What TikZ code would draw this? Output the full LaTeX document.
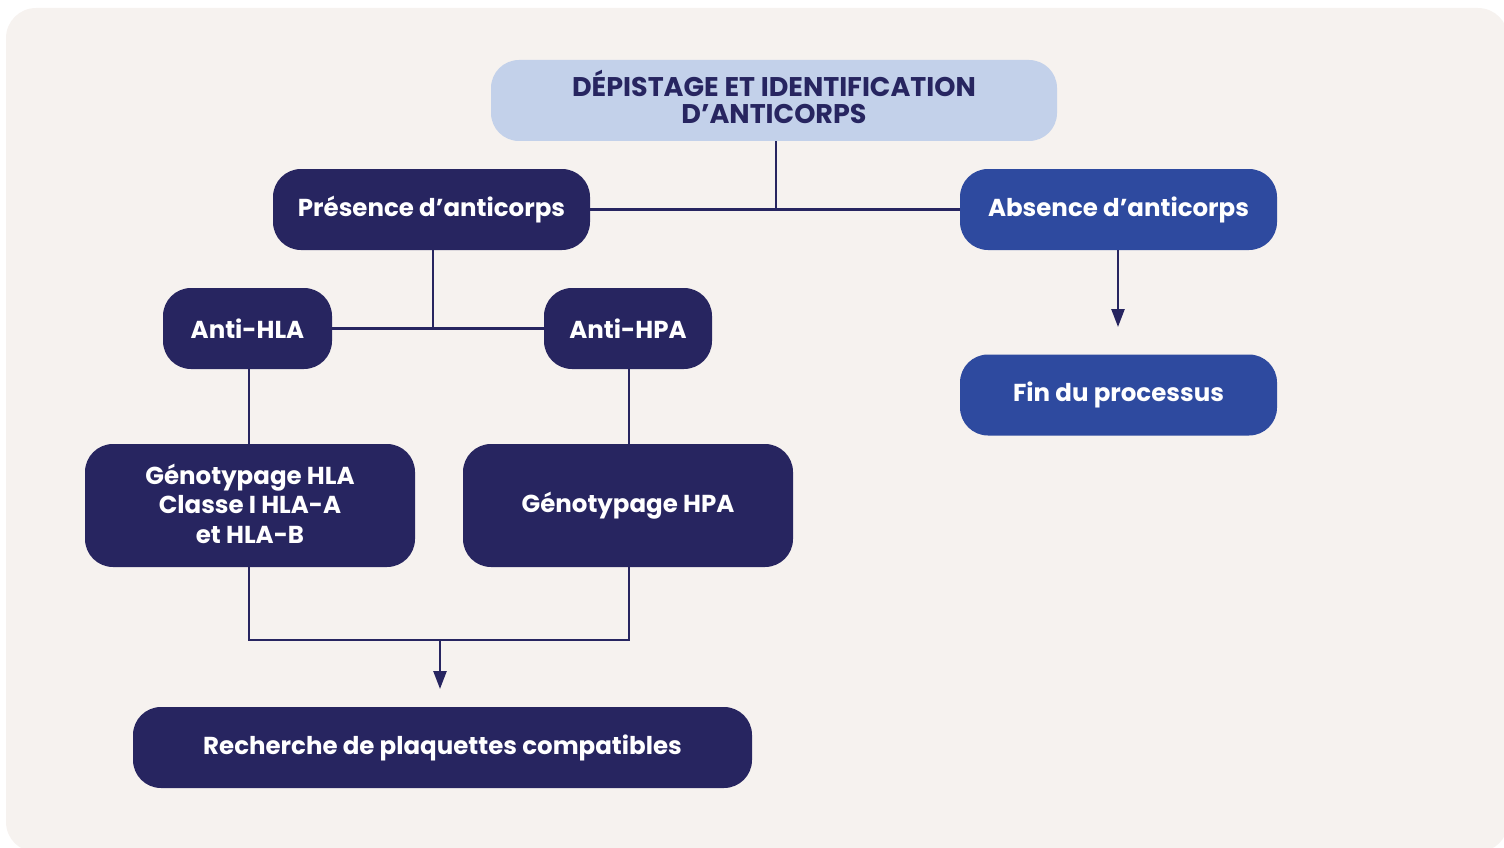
\documentclass[tikz,border=0pt]{standalone}
\usepackage{fontspec}
\setmainfont{Poppins}
\usetikzlibrary{arrows.meta}
\definecolor{navy}{HTML}{272560}
\definecolor{midblue}{HTML}{2E4A9F}
\definecolor{light}{HTML}{C3D1EA}
\definecolor{bg}{HTML}{F6F2EF}
\tikzset{
  box/.style={rounded corners=28pt, inner sep=0pt, align=center, text=white,
    font=\fontsize{24.5}{29.5}\selectfont\bfseries},
  darkbox/.style={box, fill=navy},
  bluebox/.style={box, fill=midblue},
  conn/.style={draw=navy, line width=2.5pt},
  arr/.style={conn, -{Triangle[length=18pt,width=13pt]}}
}
\begin{document}
\begin{tikzpicture}[x=1pt,y=-1pt]
\useasboundingbox (0,0) rectangle (1504,848);
\begin{scope}
\clip (0,0) rectangle (1504,848);
\fill[bg, rounded corners=30pt] (6,8) rectangle (1508,852);
\end{scope}
\node[box, fill=light, text=navy, minimum width=566pt, minimum height=81pt,
  font=\fontsize{27}{27}\selectfont\bfseries] (title) at (774,100.5) {DÉPISTAGE ET IDENTIFICATION\\D’ANTICORPS\rule[-7pt]{0pt}{0pt}};
\node[darkbox, minimum width=317pt, minimum height=81pt] (pres) at (431.5,209.5) {Présence d’anticorps};
\node[bluebox, minimum width=317pt, minimum height=81pt] (abs) at (1118.5,209.5) {Absence d’anticorps};
\node[darkbox, minimum width=169pt, minimum height=81pt] (hla) at (247.5,328.5) {Anti-HLA};
\node[darkbox, minimum width=168pt, minimum height=81pt] (hpa) at (628,328.5) {Anti-HPA};
\node[bluebox, minimum width=317pt, minimum height=81pt] (fin) at (1118.5,395) {Fin du processus};
\node[darkbox, minimum width=330pt, minimum height=123pt] (ghla) at (250,505.5) {Génotypage HLA\\Classe I HLA-A\\et HLA-B\rule[-4pt]{0pt}{0pt}};
\node[darkbox, minimum width=330pt, minimum height=123pt] (ghpa) at (628,505.5) {Génotypage HPA};
\node[darkbox, minimum width=619pt, minimum height=81pt] (rech) at (442.5,747.5) {Recherche de plaquettes compatibles};
\coordinate (j1) at (776,210);
\coordinate (j2) at (433,328);
\coordinate (j3) at (440,640);
\coordinate (a1) at (1118,327);
\coordinate (a2) at (440,689);
\draw[conn] (pres.east) -- (abs.west);
\draw[conn] (title.south -| j1) -- (j1);
\draw[conn] (hla.east) -- (hpa.west);
\draw[conn] (pres.south -| j2) -- (j2);
\draw[conn] (hla.south -| 249,0) -- (ghla.north -| 249,0);
\draw[conn] (hpa.south -| 629,0) -- (ghpa.north -| 629,0);
\draw[conn] (ghla.south -| 249,0) |- (j3) -| (ghpa.south -| 629,0);
\draw[arr] (j3) -- (a2);
\draw[arr] (abs.south -| a1) -- (a1);
\end{tikzpicture}
\end{document}
